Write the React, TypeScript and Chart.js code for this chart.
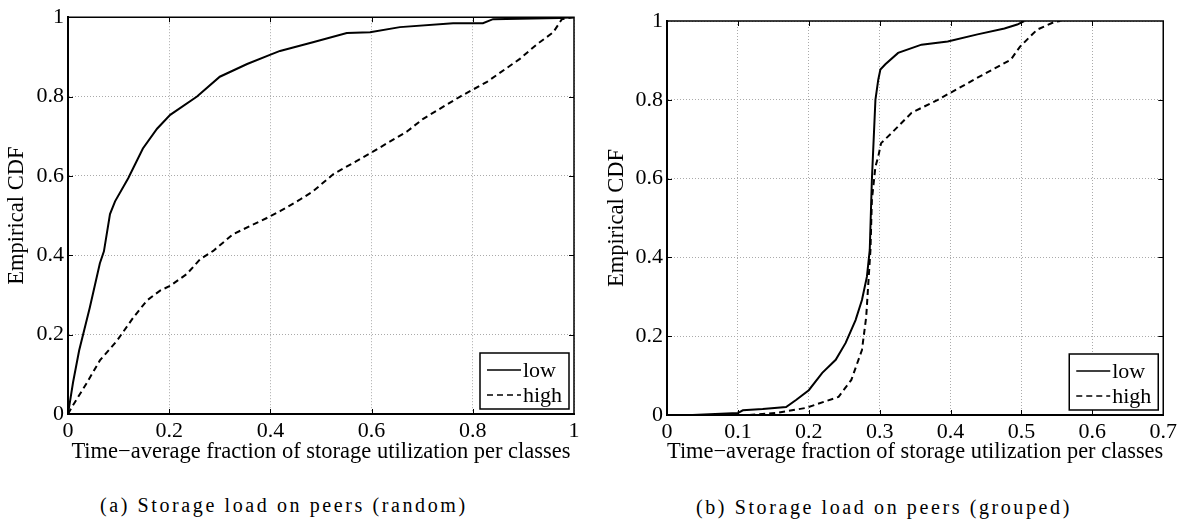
import React, { useEffect, useRef } from "react";
import { Chart, registerables } from "chart.js";

Chart.register(...registerables);

const FONT = "'Liberation Serif', 'Times New Roman', serif";

// ---- Panel (a): random ----
const aLowX = [0, 0.01, 0.022, 0.043, 0.063, 0.071, 0.083, 0.093, 0.119, 0.148, 0.176, 0.202, 0.255, 0.3, 0.354, 0.399, 0.419, 0.458, 0.484, 0.551, 0.597, 0.656, 0.761, 0.82, 0.84, 0.972, 1.0];
const aLowY = [0, 0.08, 0.16, 0.268, 0.38, 0.41, 0.504, 0.536, 0.594, 0.669, 0.719, 0.754, 0.8, 0.85, 0.882, 0.905, 0.915, 0.928, 0.937, 0.96, 0.962, 0.975, 0.985, 0.985, 0.995, 0.998, 1.0];
const aHighX = [0, 0.008, 0.037, 0.063, 0.097, 0.129, 0.156, 0.182, 0.202, 0.235, 0.261, 0.287, 0.326, 0.393, 0.419, 0.458, 0.484, 0.524, 0.597, 0.67, 0.702, 0.775, 0.828, 0.893, 0.927, 0.959, 0.976, 1.0];
const aHighY = [0, 0.018, 0.078, 0.135, 0.185, 0.243, 0.286, 0.311, 0.323, 0.353, 0.39, 0.411, 0.453, 0.494, 0.511, 0.54, 0.561, 0.604, 0.657, 0.712, 0.744, 0.8, 0.837, 0.895, 0.932, 0.962, 0.995, 1.0];
const aXTicks = [0, 0.2, 0.4, 0.6, 0.8, 1];
const aXTickLabels = ["0", "0.2", "0.4", "0.6", "0.8", "1"];

// ---- Panel (b): grouped ----
const bLowX = [0.036, 0.1, 0.107, 0.135, 0.168, 0.182, 0.2, 0.219, 0.238, 0.252, 0.266, 0.275, 0.282, 0.286, 0.289, 0.294, 0.298, 0.301, 0.308, 0.326, 0.359, 0.396, 0.438, 0.476, 0.494, 0.504];
const bLowY = [0, 0.005, 0.012, 0.015, 0.02, 0.038, 0.063, 0.107, 0.14, 0.183, 0.241, 0.292, 0.351, 0.419, 0.597, 0.8, 0.851, 0.877, 0.89, 0.919, 0.94, 0.948, 0.966, 0.981, 0.991, 1.0];
const bHighX = [0.116, 0.154, 0.196, 0.242, 0.26, 0.275, 0.281, 0.284, 0.287, 0.289, 0.294, 0.298, 0.302, 0.317, 0.345, 0.382, 0.438, 0.485, 0.498, 0.522, 0.547, 0.555];
const bHighY = [0, 0.005, 0.018, 0.046, 0.089, 0.165, 0.249, 0.335, 0.419, 0.546, 0.63, 0.656, 0.69, 0.716, 0.767, 0.8, 0.856, 0.902, 0.935, 0.978, 0.998, 1.0];
const bXTicks = [0, 0.1, 0.2, 0.3, 0.4, 0.5, 0.6, 0.7];
const bXTickLabels = ["0", "0.1", "0.2", "0.3", "0.4", "0.5", "0.6", "0.7"];

const yTicks = [0, 0.2, 0.4, 0.6, 0.8, 1];
const yTickLabels = ["0", "0.2", "0.4", "0.6", "0.8", "1"];

const seriesNames = ["low", "high"];
const xTitle = "Time\u2212average fraction of storage utilization per classes";
const yTitle = "Empirical CDF";
const captionA = "(a) Storage load on peers (random)";
const captionB = "(b) Storage load on peers (grouped)";

type PanelCfg = {
  width: number;
  height: number;
  padTop: number;
  padRight: number;
  yAxisWidth: number;
  xAxisHeight: number;
  xMax: number;
  xTicks: number[];
  xTickLabels: string[];
  lowX: number[];
  lowY: number[];
  highX: number[];
  highY: number[];
};

const zip = (xs: number[], ys: number[]) => xs.map((x, i) => ({ x, y: ys[i] }));

function Panel({ cfg, style }: { cfg: PanelCfg; style: React.CSSProperties }) {
  const ref = useRef<HTMLCanvasElement>(null);
  useEffect(() => {
    if (!ref.current) return;
    const boxPlugin = {
      id: "boxAndLegend",
      afterDraw(chart: any) {
        const { ctx, chartArea: a, scales } = chart;
        const xs = scales.x;
        const ys = scales.y;
        ctx.save();
        ctx.strokeStyle = "#000";
        ctx.setLineDash([]);
        ctx.lineWidth = 1.5;
        ctx.beginPath();
        ctx.moveTo(a.left, a.top);
        ctx.lineTo(a.right, a.top);
        ctx.lineTo(a.right, a.bottom);
        ctx.stroke();
        // inward tick marks
        ctx.lineWidth = 1;
        ctx.beginPath();
        cfg.xTicks.forEach((t, i) => {
          if (i === 0 || i === cfg.xTicks.length - 1) return;
          const px = Math.round(xs.getPixelForValue(t)) + 0.5;
          ctx.moveTo(px, a.bottom);
          ctx.lineTo(px, a.bottom - 5);
          ctx.moveTo(px, a.top);
          ctx.lineTo(px, a.top + 5);
        });
        yTicks.forEach((t, i) => {
          if (i === 0 || i === yTicks.length - 1) return;
          const py = Math.round(ys.getPixelForValue(t)) + 0.5;
          ctx.moveTo(a.left, py);
          ctx.lineTo(a.left + 5, py);
          ctx.moveTo(a.right, py);
          ctx.lineTo(a.right - 5, py);
        });
        ctx.stroke();
        // legend box
        const bw = 89;
        const bh = 56;
        const bx = a.right - 5 - bw;
        const by = a.bottom - 5 - bh;
        ctx.fillStyle = "#fff";
        ctx.fillRect(bx, by, bw, bh);
        ctx.lineWidth = 1.5;
        ctx.strokeRect(bx, by, bw, bh);
        chart.data.datasets.forEach((ds: any, i: number) => {
          const cy = by + 17 + i * 25;
          ctx.setLineDash(ds.borderDash || []);
          ctx.lineWidth = 1.5;
          ctx.beginPath();
          ctx.moveTo(bx + 7, cy);
          ctx.lineTo(bx + 41, cy);
          ctx.stroke();
          ctx.setLineDash([]);
          ctx.fillStyle = "#000";
          ctx.font = `22px ${FONT}`;
          ctx.textBaseline = "middle";
          ctx.textAlign = "left";
          ctx.fillText(ds.label, bx + 43, cy + 1);
        });
        ctx.restore();
      },
    };

    const chart = new Chart(ref.current, {
      type: "line",
      data: {
        datasets: [
          {
            label: seriesNames[0],
            data: zip(cfg.lowX, cfg.lowY),
            borderColor: "#000",
            borderWidth: 2,
            pointRadius: 0,
            tension: 0,
            fill: false,
          },
          {
            label: seriesNames[1],
            data: zip(cfg.highX, cfg.highY),
            borderColor: "#000",
            borderWidth: 2,
            borderDash: [6, 4],
            pointRadius: 0,
            tension: 0,
            fill: false,
          },
        ],
      },
      options: {
        responsive: false,
        animation: false,
        events: [],
        layout: { padding: { top: cfg.padTop, right: cfg.padRight, left: 0, bottom: 0 } },
        plugins: { legend: { display: false }, tooltip: { enabled: false } },
        scales: {
          x: {
            type: "linear",
            min: 0,
            max: cfg.xMax,
            afterBuildTicks: (s: any) => {
              s.ticks = cfg.xTicks.map((v) => ({ value: v }));
            },
            afterFit: (s: any) => {
              s.height = cfg.xAxisHeight;
            },
            ticks: {
              color: "#000",
              padding: 4,
              maxRotation: 0,
              autoSkip: false,
              font: { family: FONT, size: 22 },
              callback: (_v: any, i: number) => cfg.xTickLabels[i],
            },
            grid: { color: "#aaa", lineWidth: 1, drawTicks: false },
            border: { display: true, color: "#000", width: 2, dash: [1, 2] },
            title: {
              display: true,
              text: xTitle,
              color: "#000",
              font: { family: FONT, size: 22.5 },
              padding: { top: 0, bottom: 4.5 },
            },
          },
          y: {
            type: "linear",
            min: 0,
            max: 1,
            afterBuildTicks: (s: any) => {
              s.ticks = yTicks.map((v) => ({ value: v }));
            },
            afterFit: (s: any) => {
              s.width = cfg.yAxisWidth;
            },
            ticks: {
              color: "#000",
              padding: 4,
              autoSkip: false,
              font: { family: FONT, size: 22 },
              callback: (_v: any, i: number) => yTickLabels[i],
            },
            grid: { color: "#aaa", lineWidth: 1, drawTicks: false },
            border: { display: true, color: "#000", width: 2, dash: [1, 2] },
            title: {
              display: true,
              text: yTitle,
              color: "#000",
              font: { family: FONT, size: 22.5 },
              padding: { top: 3.5, bottom: 0 },
            },
          },
        },
      },
      plugins: [boxPlugin],
    } as any);
    return () => chart.destroy();
  }, [cfg]);
  return <canvas ref={ref} width={cfg.width} height={cfg.height} style={{ position: "absolute", ...style }} />;
}

const cfgA: PanelCfg = {
  width: 590,
  height: 470,
  padTop: 15,
  padRight: 16,
  yAxisWidth: 68,
  xAxisHeight: 56,
  xMax: 1,
  xTicks: aXTicks,
  xTickLabels: aXTickLabels,
  lowX: aLowX,
  lowY: aLowY,
  highX: aHighX,
  highY: aHighY,
};

const cfgB: PanelCfg = {
  width: 581,
  height: 470,
  padTop: 21,
  padRight: 14,
  yAxisWidth: 67,
  xAxisHeight: 55,
  xMax: 0.7,
  xTicks: bXTicks,
  xTickLabels: bXTickLabels,
  lowX: bLowX,
  lowY: bLowY,
  highX: bHighX,
  highY: bHighY,
};

const captionStyle: React.CSSProperties = {
  position: "absolute",
  fontFamily: FONT,
  fontSize: "20px",
  lineHeight: "24px",
  letterSpacing: "2.6px",
  whiteSpace: "nowrap",
  color: "#000",
};

export default function App() {
  return (
    <div style={{ position: "absolute", left: 0, top: 0, width: 1181, height: 521, background: "#fff", overflow: "hidden" }}>
      <Panel cfg={cfgA} style={{ left: 0, top: 0 }} />
      <Panel cfg={cfgB} style={{ left: 600, top: 0 }} />
      <div style={{ ...captionStyle, left: 100, top: 493 }}>{captionA}</div>
      <div style={{ ...captionStyle, left: 696, top: 495 }}>{captionB}</div>
    </div>
  );
}
